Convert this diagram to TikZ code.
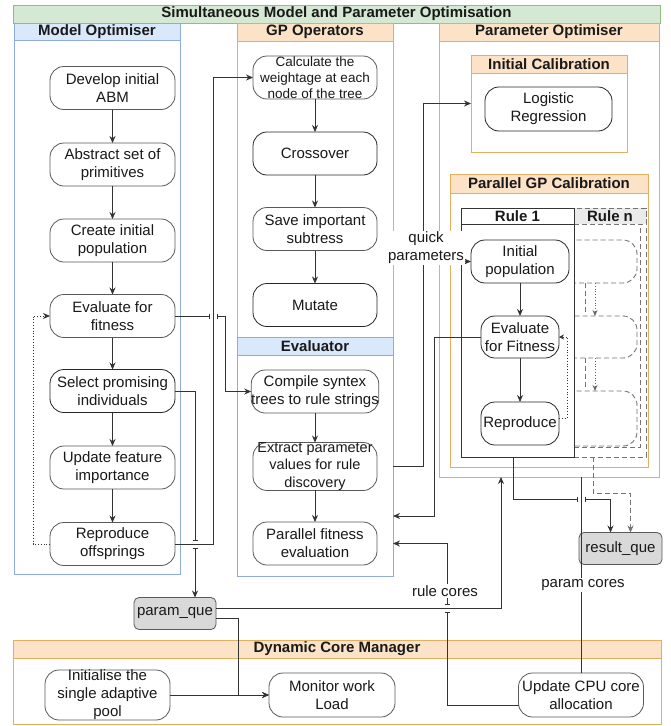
\documentclass[tikz,border=0pt]{standalone}
\usepackage{fontspec}
\setmainfont{Liberation Sans}
\usetikzlibrary{arrows.meta,calc}
\definecolor{bluefill}{HTML}{DAE8FC}
\definecolor{blueedge}{HTML}{8FABD9}
\definecolor{orfill}{HTML}{FCE3C8}
\definecolor{oredge}{HTML}{E3AE5E}
\definecolor{grfill}{HTML}{D5E8D4}
\definecolor{gredge}{HTML}{8FBF7A}
\definecolor{linec}{HTML}{333333}
\begin{document}
\begin{tikzpicture}[x=1pt,y=-1pt,
  font=\fontsize{15}{18}\selectfont,
  every node/.style={inner sep=0pt,outer sep=0pt,text=black!90},
  proc/.style={draw=black!65,line width=0.8pt,fill=white,rounded corners=14pt,align=center,minimum width=125pt,minimum height=43pt},
  procd/.style={proc,draw=black!85},
  que/.style={draw=black!65,fill=black!15,rounded corners=5pt,line width=0.8pt,minimum height=32pt,minimum width=82pt},
  cbox/.style={draw=#1,line width=0.8pt,anchor=north west},
  hdr/.style={draw=#1,line width=0.8pt,anchor=north west,font=\bfseries\fontsize{15}{18}\selectfont},
  conn/.style={draw=linec,line width=0.8pt,-{Stealth[length=7pt,width=6pt]}},
  plain/.style={draw=linec,line width=0.8pt},
  rdash/.style={draw=black!55,line width=0.9pt,dash pattern=on 5pt off 3pt},
  lbl/.style={fill=white,inner sep=1.5pt,align=center},
  hoph/.pic={\fill[white] (-4,-1.6) rectangle (4,1.6);
    \draw[line width=0.8pt,linec] (-4,-2.5)--(-4,2.5) (4,-2.5)--(4,2.5) (0,-2)--(0,2);},
  hopv/.pic={\fill[white] (-1.6,-4) rectangle (1.6,4);
    \draw[line width=0.8pt,linec] (-2.5,-4)--(2.5,-4) (-2.5,4)--(2.5,4) (-2,0)--(2,0);}
]
\useasboundingbox (0,0) rectangle (671,726);
\fill[white] (0,0) rectangle (671,726);

% ---------- containers ----------
\node[hdr=gredge,fill=grfill,minimum width=647pt,minimum height=18pt] (banner) at (13,5) {Simultaneous Model and Parameter Optimisation};

\node[cbox=blueedge,fill=white,minimum width=166pt,minimum height=551pt] (moBox) at (14,23) {};
\node[hdr=blueedge,fill=bluefill,minimum width=166pt,minimum height=17pt] (moHdr) at (14,23) {Model Optimiser};

\node[cbox=oredge,fill=white,minimum width=156pt,minimum height=314pt] (gpBox) at (237,23) {};
\node[hdr=oredge,fill=orfill,minimum width=156pt,minimum height=18pt] (gpHdr) at (237,23) {GP Operators};

\node[cbox=blueedge,fill=white,minimum width=156pt,minimum height=239pt] (evBox) at (237,337) {};
\node[hdr=blueedge,fill=bluefill,minimum width=156pt,minimum height=18pt] (evHdr) at (237,337) {Evaluator};

\node[cbox=oredge,fill=white,minimum width=220pt,minimum height=454pt] (poBox) at (439,23) {};
\node[hdr=oredge,fill=orfill,minimum width=220pt,minimum height=18pt] (poHdr) at (439,23) {Parameter Optimiser};

\node[cbox=oredge,fill=white,minimum width=156pt,minimum height=97pt] (icBox) at (471,55) {};
\node[hdr=oredge,fill=orfill,minimum width=156pt,minimum height=18pt] (icHdr) at (471,55) {Initial Calibration};

\node[cbox=oredge,fill=white,minimum width=198pt,minimum height=293pt] (pgBox) at (450,174) {};
\node[hdr=oredge,fill=orfill,minimum width=198pt,minimum height=19pt] (pgHdr) at (450,174) {Parallel GP Calibration};

\node[cbox=oredge,fill=white,minimum width=648pt,minimum height=84pt] (dcBox) at (13,640) {};
\node[hdr=oredge,fill=orfill,minimum width=648pt,minimum height=18pt] (dcHdr) at (13,640) {Dynamic Core Manager};

% ---------- Rule n (dashed stack) ----------
\node[cbox=black!55,rdash,minimum width=72pt,minimum height=249pt] (rnBox) at (574,208) {};
\node[hdr=black!55,rdash,fill=black!8,minimum width=72pt,minimum height=16pt] (rnHdr) at (574,208) {Rule n};
\draw[rdash] (574,447) -- (640,447) -- (640,224);
\draw[rdash,rounded corners=14pt] (530,240) rectangle (637,283);
\draw[rdash,rounded corners=14pt] (530,316) rectangle (637,358);
\draw[rdash,rounded corners=14pt] (530,391) rectangle (637,446);
\draw[rdash] (585,283) -- (585,313);
\draw[rdash] (585,358) -- (585,388);
\draw[draw=black!60,line width=0.8pt,dotted,-{Stealth[length=6pt,width=5pt]}] (595,283) -- (595,316);
\draw[draw=black!60,line width=0.8pt,dotted,-{Stealth[length=6pt,width=5pt]}] (595,358) -- (595,391);

% ---------- Rule 1 ----------
\node[cbox=black!80,fill=white,minimum width=113pt,minimum height=249pt] (r1Box) at (461,208) {};
\node[hdr=black!80,fill=white,minimum width=113pt,minimum height=16pt] (r1Hdr) at (461,208) {Rule 1};

% ---------- connectors ----------
\coordinate (y516) at (0,516);
\coordinate (xq) at (423,466.5);
\coordinate (r1out) at (513,457);
\coordinate (rnout) at (593,457);
\coordinate (ucw) at (518.5,705);

% Model Optimiser nodes
\node[proc] (dev) at (112.5,88) {Develop initial\\ABM};
\node[proc] (abs) at (112.5,164.5) {Abstract set of\\primitives};
\node[proc] (cre) at (112.5,240.5) {Create initial\\population};
\node[proc] (eva) at (112.5,316) {Evaluate for\\fitness};
\node[procd] (sel) at (112.5,391) {Select promising\\individuals};
\node[proc] (upd) at (112.5,467.5) {Update feature\\importance};
\node[proc] (rep) at (112.5,544) {Reproduce\\offsprings};

% GP operators
\node[proc,minimum width=124pt,font=\fontsize{13.5}{16}\selectfont] (calc) at (315,77.5) {Calculate the\\weightage at each\\node of the tree};
\node[procd,minimum width=124pt] (cross) at (315,153.5) {Crossover};
\node[proc,minimum width=124pt] (save) at (315,229) {Save important\\subtress};
\node[procd,minimum width=124pt] (mut) at (315,305) {Mutate};

% Evaluator
\node[proc,minimum width=124pt] (comp) at (315,391.5) {Compile syntex\\trees to rule strings};
\node[proc,minimum width=124pt,font=\fontsize{14.5}{17.5}\selectfont] (extr) at (315,466.5) {Extract parameter\\values for rule\\discovery};
\node[proc,minimum width=124pt] (par) at (315,543.5) {Parallel fitness\\evaluation};

% Parameter optimiser
\node[procd,minimum width=127pt,minimum height=44pt] (lr) at (548.5,109) {Logistic\\Regression};
\node[procd,minimum width=98pt] (ip) at (520,261.5) {Initial\\population};
\node[procd,minimum width=78pt,minimum height=42pt] (ef) at (520,337) {Evaluate\\for Fitness};
\node[procd,minimum width=78pt] (rp) at (520,423.5) {Reproduce};

% queues
\node[que] (pq) at (175,613.5) {param\_que};
\node[que,minimum width=83pt] (rq) at (620.5,548.5) {result\_que};

% Dynamic core manager
\node[proc,minimum height=44pt] (init) at (107.5,695) {Initialise the\\single adaptive\\pool};
\node[proc,minimum width=126pt,minimum height=44pt] (mon) at (332,695) {Monitor work\\Load};
\node[proc,minimum height=44pt] (ucpu) at (581,695) {Update CPU core\\allocation};

% Model optimiser flow
\draw[conn] (dev) -- (abs);
\draw[conn] (abs) -- (cre);
\draw[conn] (cre) -- (eva);
\draw[conn] (eva) -- (sel);
\draw[conn] (sel) -- (upd);
\draw[conn] (upd) -- (rep);
\draw[conn,dotted] (rep.west) -- ++(-17,0) |- (eva.west);

% GP flow
\draw[conn] (calc) -- (cross);
\draw[conn] (cross) -- (save);
\draw[conn] (save) -- (mut);
% Evaluator flow
\draw[conn] (comp) -- (extr);
\draw[conn] (extr) -- (par);

% cross-container links
\draw[conn] (rep.east) -- ++(38,0) |- (calc.west);
\draw[conn] (eva.east) -- ++(50,0) |- (comp.west);
\draw[conn] (sel.east) -| ($(pq.north)+(20,0)$);
\pic at (213,316) {hoph};
\pic at (195,544) {hopv};

\draw[conn] (evBox.east |- extr) -- (xq) |- (icBox.west);
\draw[conn] (xq) |- (ip.west);
\node[lbl] (qp) at (426,248) {quick\\parameters};

\draw[conn] (ef.west) -- ++(-47,0) |- (evBox.east |- y516);

% Rule 1 internal
\draw[conn] (ip) -- (ef);
\draw[conn] (ef) -- (rp);
\draw[conn,dotted,-{Stealth[length=5pt,width=5pt]}] (rp.east |- 0,418) -- (567,418) -- (567,337) -- (ef.east);

% to result queue
\draw[conn] (r1out) -- (513,499) -| ($(rq.north)+(-10,0)$);
\draw[conn,draw=black!55,dash pattern=on 5pt off 3pt] (rnout) -- (593,493) -| ($(rq.north)+(10,0)$);

% param cores
\draw[plain] (ucpu.north) -- (ucpu.north |- poBox.south);
\pic at (581,499) {hoph};
\node[lbl] (pcl) at (583,585) {param cores};

% param_que links
\draw[conn] (pq.east |- 0,608) -- (501,608) -- (501,477);
\draw[conn] (pq.east |- 0,618) -- (238,618) |- (mon.west);
\draw[conn] (init.east) -- (mon.west);

% rule cores
\draw[conn] (ucw) -- (447,705) -- (447,543.5) -- (evBox.east |- par);
\pic at (447,608) {hopv};
\node[lbl] (rcl) at (445,591) {rule cores};
\end{tikzpicture}
\end{document}
